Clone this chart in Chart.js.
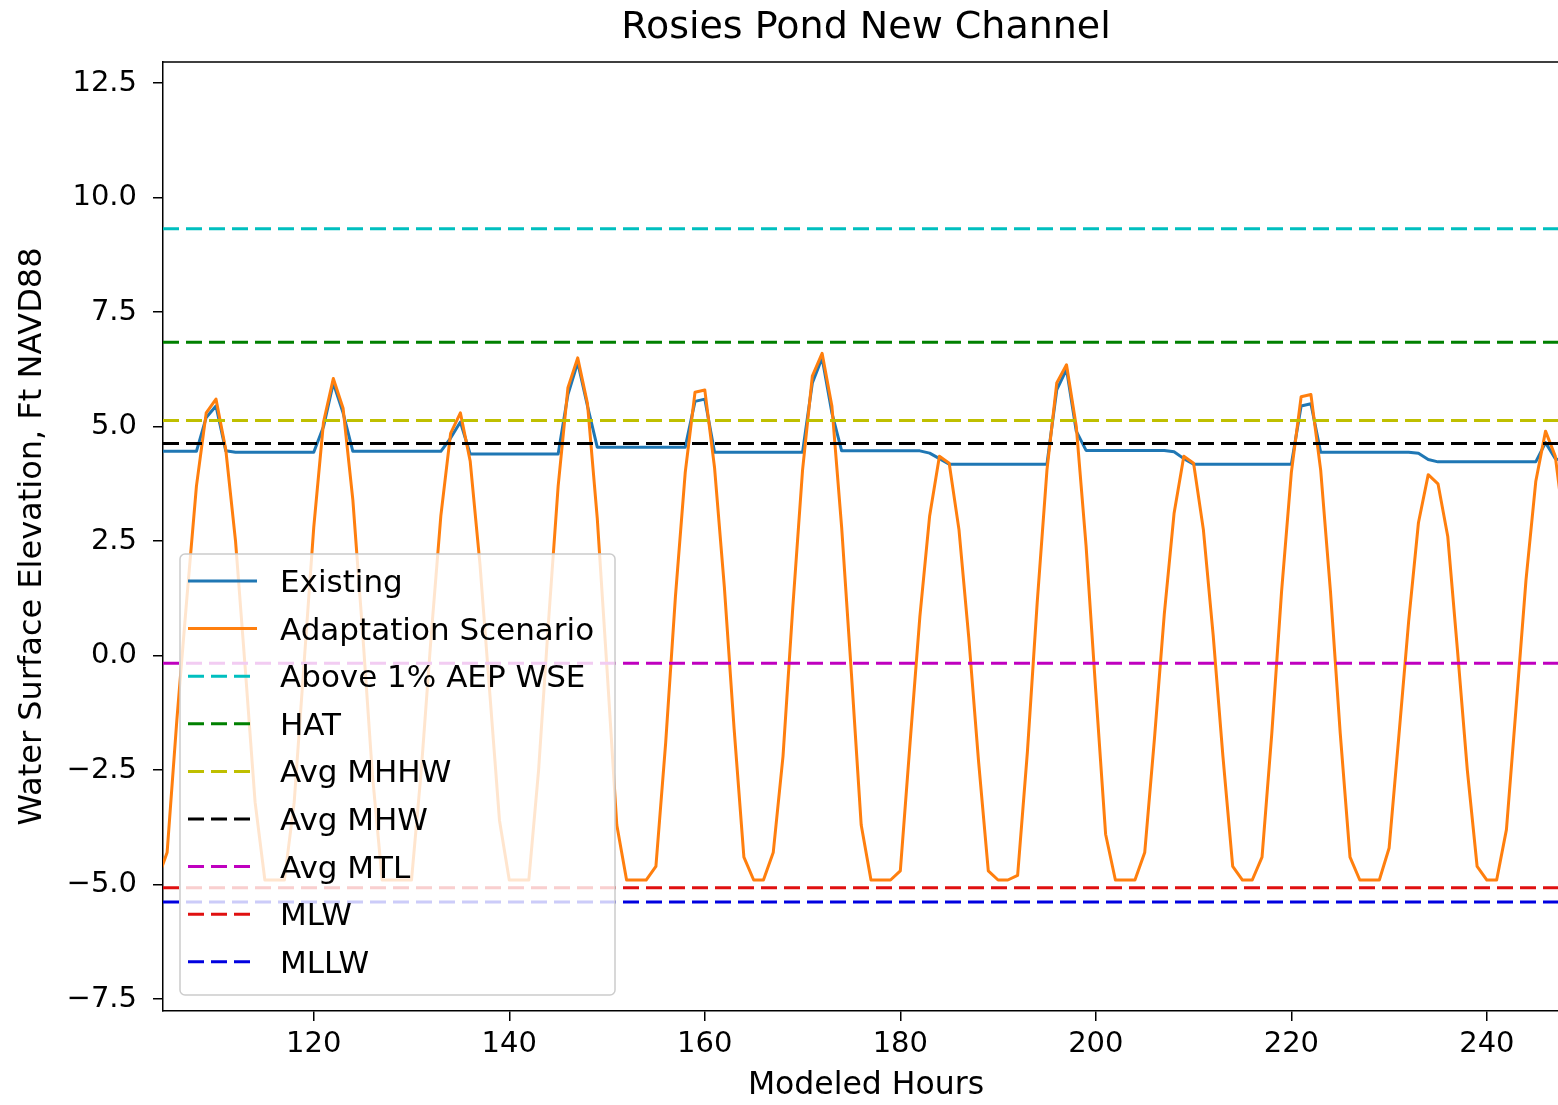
<!DOCTYPE html>
<html>
<head>
<meta charset="utf-8">
<title>Rosies Pond New Channel</title>
<script src="https://cdn.jsdelivr.net/npm/chart.js@4.4.1/dist/chart.umd.min.js"></script>
<style>
  html, body { margin: 0; padding: 0; background: #fff; overflow: hidden; }
  #wrap { width: 1558px; height: 1105px; overflow: hidden; }
  canvas { display: block; }
</style>
</head>
<body>
<div id="wrap"><canvas id="grafico" width="1732" height="1105"></canvas></div>
<script>
// Horas modeladas: la primera muestra es la hora 104, una muestra por hora
const horaInicial = 104;

// Existing (azul)
const existente = [
  4.46, 4.46, 4.46, 4.46, 4.46, 5.2, 5.45, 4.47, 4.44, 4.44,
  4.44, 4.44, 4.44, 4.44, 4.44, 4.44, 4.44, 5.0, 5.95, 5.3,
  4.46, 4.46, 4.46, 4.46, 4.46, 4.46, 4.46, 4.46, 4.46, 4.46,
  4.75, 5.1, 4.4, 4.4, 4.4, 4.4, 4.4, 4.4, 4.4, 4.4,
  4.4, 4.4, 5.7, 6.4, 5.45, 4.55, 4.55, 4.55, 4.55, 4.55,
  4.55, 4.55, 4.55, 4.55, 4.55, 5.55, 5.6, 4.44, 4.44, 4.44,
  4.44, 4.44, 4.44, 4.44, 4.44, 4.44, 4.44, 5.95, 6.5, 5.3,
  4.47, 4.47, 4.47, 4.47, 4.47, 4.47, 4.47, 4.47, 4.47, 4.42,
  4.3, 4.18, 4.18, 4.18, 4.18, 4.18, 4.18, 4.18, 4.18, 4.18,
  4.18, 4.18, 5.8, 6.25, 4.9, 4.48, 4.48, 4.48, 4.48, 4.48,
  4.48, 4.48, 4.48, 4.48, 4.45, 4.3, 4.18, 4.18, 4.18, 4.18,
  4.18, 4.18, 4.18, 4.18, 4.18, 4.18, 4.18, 5.45, 5.5, 4.44,
  4.44, 4.44, 4.44, 4.44, 4.44, 4.44, 4.44, 4.44, 4.44, 4.42,
  4.28, 4.23, 4.23, 4.23, 4.23, 4.23, 4.23, 4.23, 4.23, 4.23,
  4.23, 4.23, 4.65, 4.3, 4.23
];

// Adaptation Scenario (naranja)
const adaptacion = [
  -4.9, -4.3, -1.4, 1.2, 3.7, 5.3, 5.6, 4.5, 2.5, -0.3,
  -3.2, -4.9, -4.9, -4.9, -3.2, -0.2, 2.8, 5.1, 6.05, 5.4,
  3.4, 0.5, -2.6, -4.9, -4.9, -4.9, -4.9, -2.5, 0.4, 3.05,
  4.85, 5.3, 4.25, 2.0, -0.8, -3.6, -4.9, -4.9, -4.9, -2.5,
  0.7, 3.7, 5.85, 6.5, 5.5, 3.0, -0.3, -3.7, -4.9, -4.9,
  -4.9, -4.6, -1.9, 1.3, 4.0, 5.75, 5.8, 4.1, 1.5, -1.6,
  -4.4, -4.9, -4.9, -4.3, -2.2, 1.05, 4.05, 6.1, 6.6, 5.45,
  2.8, -0.4, -3.7, -4.9, -4.9, -4.9, -4.7, -1.9, 0.85, 3.05,
  4.35, 4.2, 2.75, 0.4, -2.3, -4.7, -4.9, -4.9, -4.8, -2.1,
  1.15, 4.05, 5.95, 6.35, 5.0, 2.4, -0.8, -3.9, -4.9, -4.9,
  -4.9, -4.3, -1.8, 0.9, 3.1, 4.35, 4.2, 2.75, 0.45, -2.2,
  -4.6, -4.9, -4.9, -4.4, -1.7, 1.4, 4.0, 5.65, 5.7, 4.05,
  1.4, -1.7, -4.4, -4.9, -4.9, -4.9, -4.2, -1.75, 0.75, 2.9,
  3.95, 3.75, 2.6, 0.1, -2.5, -4.6, -4.9, -4.9, -3.8, -1.1,
  1.65, 3.8, 4.9, 4.35, 2.65
];

// Niveles de referencia (lineas horizontales)
const nombresNiveles = ['Above 1% AEP WSE', 'HAT', 'Avg MHHW', 'Avg MHW', 'Avg MTL', 'MLW', 'MLLW'];
const valoresNiveles = [9.32, 6.84, 5.13, 4.63, -0.17, -5.07, -5.38];
const coloresNiveles = ['#00bfbf', '#008000', '#bfbf00', '#000000', '#bf00bf', '#e01010', '#0000e0'];

// Ejes
const xMin = 104.58, xMax = 248.4;
const yMin = -7.76, yMax = 12.96;
const xTicks = [120, 140, 160, 180, 200, 220, 240];
const yTicks = [-7.5, -5.0, -2.5, 0.0, 2.5, 5.0, 7.5, 10.0, 12.5];

const serie = (vals) => vals.map((v, i) => ({ x: horaInicial + i, y: v }));

const datasets = [
  { label: 'Existing', data: serie(existente), borderColor: '#1f77b4', borderWidth: 3 },
  { label: 'Adaptation Scenario', data: serie(adaptacion), borderColor: '#ff7f0e', borderWidth: 3 }
];
nombresNiveles.forEach((nombre, i) => {
  datasets.push({
    label: nombre,
    data: [{ x: xMin, y: valoresNiveles[i] }, { x: xMax, y: valoresNiveles[i] }],
    borderColor: coloresNiveles[i],
    borderWidth: 3,
    borderDash: [16, 7]
  });
});
datasets.forEach((ds, i) => {
  ds.pointRadius = 0;
  ds.tension = 0;
  ds.fill = false;
  ds.borderJoinStyle = 'round';
  ds.order = datasets.length - i; // los ultimos quedan encima, como en matplotlib
});

// Titulo centrado sobre el area del grafico, marco superior y leyenda interior
const marcoYLeyenda = {
  id: 'marcoYLeyenda',
  afterDatasetsDraw(chart) {
    const ctx = chart.ctx;
    const a = chart.chartArea;
    ctx.save();
    ctx.strokeStyle = '#000';
    ctx.lineWidth = 1.5;
    ctx.beginPath();
    ctx.moveTo(a.left, a.top);
    ctx.lineTo(a.right, a.top);
    ctx.lineTo(a.right, a.bottom);
    ctx.stroke();

    ctx.fillStyle = '#000';
    ctx.font = '38px "DejaVu Sans"';
    ctx.textAlign = 'center';
    ctx.textBaseline = 'middle';
    ctx.fillText('Rosies Pond New Channel', (a.left + a.right) / 2, 28);

    const bw = 435, bh = 441;
    const bx = a.left + 17, by = a.bottom - 16 - bh;
    ctx.beginPath();
    ctx.roundRect(bx, by, bw, bh, 5);
    ctx.fillStyle = 'rgba(255,255,255,0.8)';
    ctx.fill();
    ctx.strokeStyle = '#cccccc';
    ctx.lineWidth = 1.5;
    ctx.stroke();

    ctx.font = '31px "DejaVu Sans"';
    ctx.textAlign = 'left';
    ctx.textBaseline = 'alphabetic';
    chart.data.datasets.forEach((ds, i) => {
      const yy = by + 27 + i * 47.6;
      ctx.beginPath();
      ctx.setLineDash(ds.borderDash || []);
      ctx.strokeStyle = ds.borderColor;
      ctx.lineWidth = ds.borderWidth;
      ctx.moveTo(bx + 8, yy);
      ctx.lineTo(bx + 77, yy);
      ctx.stroke();
      ctx.setLineDash([]);
      ctx.fillStyle = '#000';
      ctx.fillText(ds.label, bx + 100, yy + 11);
    });
    ctx.restore();
  }
};

Chart.defaults.font.family = '"DejaVu Sans", sans-serif';
Chart.defaults.color = '#000';

new Chart(document.getElementById('grafico'), {
  type: 'line',
  data: { datasets: datasets },
  options: {
    responsive: false,
    animation: false,
    devicePixelRatio: 1,
    layout: { padding: { left: 0, right: 163, top: 62, bottom: 0 } },
    plugins: {
      legend: { display: false },
      tooltip: { enabled: false },
      title: { display: false }
    },
    scales: {
      x: {
        type: 'linear',
        min: xMin,
        max: xMax,
        afterFit: (s) => { s.height = 94; },
        afterBuildTicks: (s) => { s.ticks = xTicks.map(v => ({ value: v })); },
        ticks: { font: { size: 29 }, color: '#000', padding: 6, maxRotation: 0, autoSkip: false,
                 callback: (v) => String(v) },
        grid: { drawOnChartArea: false, drawTicks: true, tickLength: 10, color: '#000', lineWidth: 1.5 },
        border: { display: true, color: '#000', width: 1.5 },
        title: { display: true, text: 'Modeled Hours', font: { size: 31.5 }, color: '#000',
                 padding: { top: 0, bottom: 0 } }
      },
      y: {
        type: 'linear',
        min: yMin,
        max: yMax,
        afterFit: (s) => { s.width = 163; },
        afterBuildTicks: (s) => { s.ticks = yTicks.map(v => ({ value: v })); },
        ticks: { font: { size: 29 }, color: '#000', padding: 16, autoSkip: false,
                 callback: (v) => v.toFixed(1).replace('-', '\u2212') },
        grid: { drawOnChartArea: false, drawTicks: true, tickLength: 10, color: '#000', lineWidth: 1.5 },
        border: { display: true, color: '#000', width: 1.5 },
        title: { display: true, text: 'Water Surface Elevation, Ft NAVD88', font: { size: 32 }, color: '#000',
                 padding: { top: 13, bottom: 0 } }
      }
    }
  },
  plugins: [marcoYLeyenda]
});
</script>
</body>
</html>
